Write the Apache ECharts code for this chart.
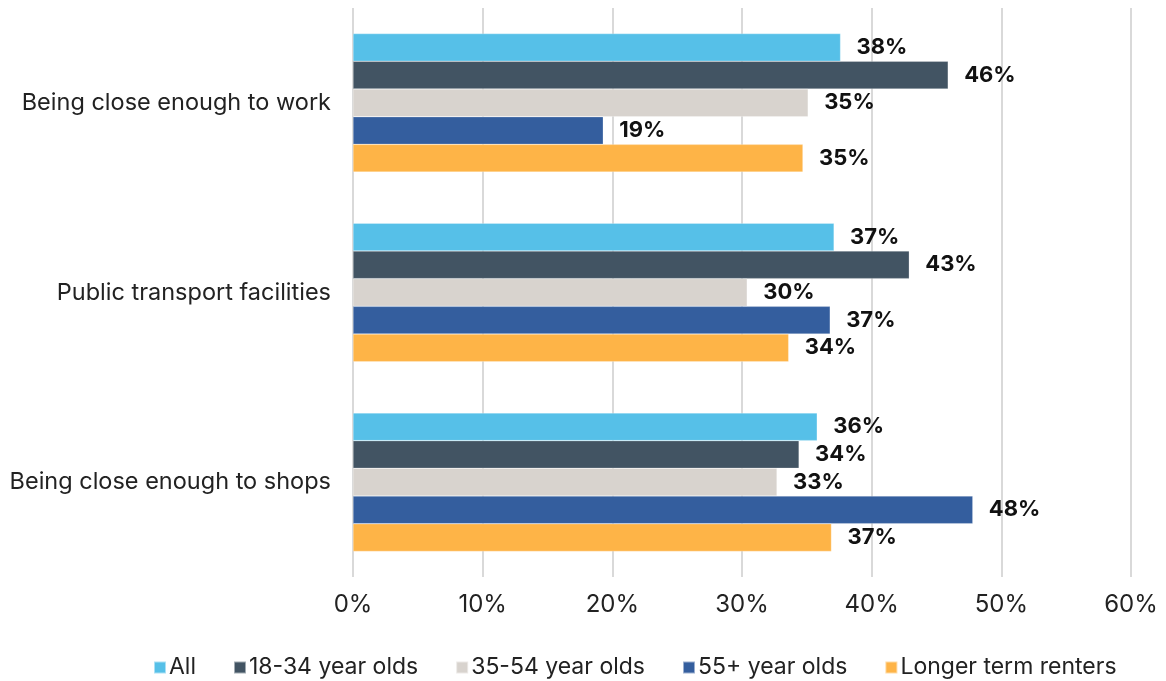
<!DOCTYPE html>
<html>
<head>
<meta charset="utf-8">
<script src="https://cdn.jsdelivr.net/npm/echarts@6/dist/echarts.min.js"></script>
<style>
  html, body { margin: 0; padding: 0; background: #fff; }
  #chart { width: 1166px; height: 681px; }
</style>
</head>
<body>
<div id="chart"></div>
<script>
// Reasons for choosing a location, by respondent group (share of respondents, %)
const categories = ['Being close enough to work', 'Public transport facilities', 'Being close enough to shops'];
const seriesNames = ['All', '18-34 year olds', '35-54 year olds', '55+ year olds', 'Longer term renters'];
const allValues = [37.6, 37.1, 35.8];
const age18to34 = [45.9, 42.9, 34.4];
const age35to54 = [35.1, 30.4, 32.7];
const age55plus = [19.3, 36.8, 47.8];
const longerTerm = [34.7, 33.6, 36.9];
const xTicks = [0, 10, 20, 30, 40, 50, 60];
const colors = ['#56C0E8', '#425463', '#D8D3CE', '#345E9E', '#FEB447'];

const seriesValues = [allValues, age18to34, age35to54, age55plus, longerTerm];
const font = 'Inter, "Noto Sans", sans-serif';

const chart = echarts.init(document.getElementById('chart'));
chart.setOption({
  animation: false,
  color: colors,
  textStyle: { fontFamily: font },
  grid: { left: 353, right: 35, top: 8, bottom: 104, containLabel: false },
  legend: {
    bottom: -3,
    left: 148,
    itemWidth: 12,
    itemHeight: 12,
    itemGap: 37,
    icon: 'rect',
    textStyle: { fontSize: 23, color: '#222', fontFamily: font, padding: [0, 0, 0, -2] },
    data: seriesNames
  },
  xAxis: {
    type: 'value',
    min: xTicks[0],
    max: xTicks[xTicks.length - 1],
    interval: 10,
    axisLine: { show: false },
    axisTick: { show: false },
    splitLine: { lineStyle: { color: '#D9D9D9', width: 2 } },
    axisLabel: { formatter: v => v + '%', fontSize: 24, color: '#222', margin: 16, fontFamily: font }
  },
  yAxis: {
    type: 'category',
    inverse: true,
    data: categories,
    axisLine: { show: false },
    axisTick: { show: false },
    axisLabel: { fontSize: 23.5, color: '#222', margin: 22, fontFamily: font }
  },
  series: seriesNames.map((name, i) => ({
    name,
    type: 'bar',
    data: seriesValues[i],
    barGap: '0%',
    barCategoryGap: '27%',
    itemStyle: { borderColor: 'rgba(255,255,255,0.5)', borderWidth: 0.5 },
    label: {
      show: true,
      position: 'right',
      distance: 16,
      formatter: p => Math.round(p.value) + '%',
      fontSize: 22,
      fontWeight: 'bold',
      color: '#111',
      fontFamily: font
    }
  }))
});
</script>
</body>
</html>
